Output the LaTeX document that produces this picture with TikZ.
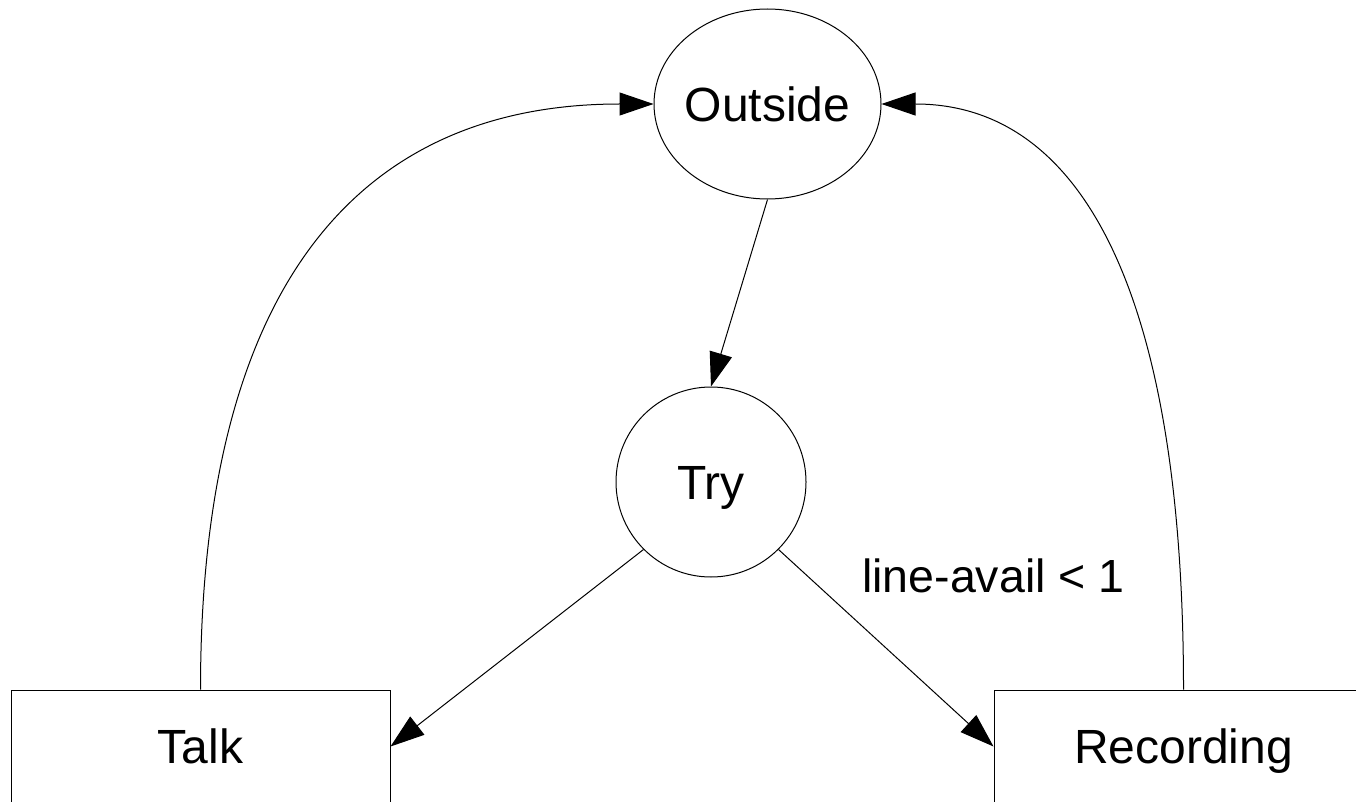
\documentclass[tikz,border=0pt]{standalone}
\usepackage{fontspec}
\setmainfont{Liberation Sans}
\usetikzlibrary{arrows.meta,shapes.geometric}
\tikzset{
  basenode/.style={draw=black, line width=1pt, inner sep=0pt,
    font=\fontsize{48pt}{57pt}\selectfont, text height=34.4pt, text depth=0pt},
  statenode/.style={basenode, ellipse},
  boxnode/.style={basenode, rectangle, minimum width=379pt, minimum height=113pt},
  conn/.style={draw=black, line width=1pt, -{Triangle[length=34pt,width=23pt]}},
  lbl/.style={inner sep=0pt, font=\fontsize{46.5pt}{55pt}\selectfont}
}
\begin{document}
\begin{tikzpicture}[x=1pt,y=-1pt]
\useasboundingbox (0,0) rectangle (1356,802);
\clip (0,0) rectangle (1356,802);
\fill[white] (0,0) rectangle (1356,802);
\node[statenode, inner xsep=-3pt, minimum width=227pt, minimum height=190pt] (outside) at (767.5,104) {Outside};
\node[statenode, circle, minimum size=190pt] (try) at (711,482) {Try};
\node[boxnode] (talk) at (200.5,746.5) {Talk};
\node[boxnode] (rec) at (1183.5,746.5) {Recording};
\node[lbl, anchor=base west] (cond) at (862,592) {line-avail < 1};
\draw[conn] (outside.south) -- (try.north);
\draw[conn] (try.south west) -- (talk.east);
\draw[conn] (try.south east) -- (rec.west);
\draw[conn] (talk.north) .. controls +(0,-393) and +(-303,0) .. (outside.west);
\draw[conn] (rec.north) .. controls +(0,-393) and +(202,0) .. (outside.east);
\end{tikzpicture}
\end{document}
